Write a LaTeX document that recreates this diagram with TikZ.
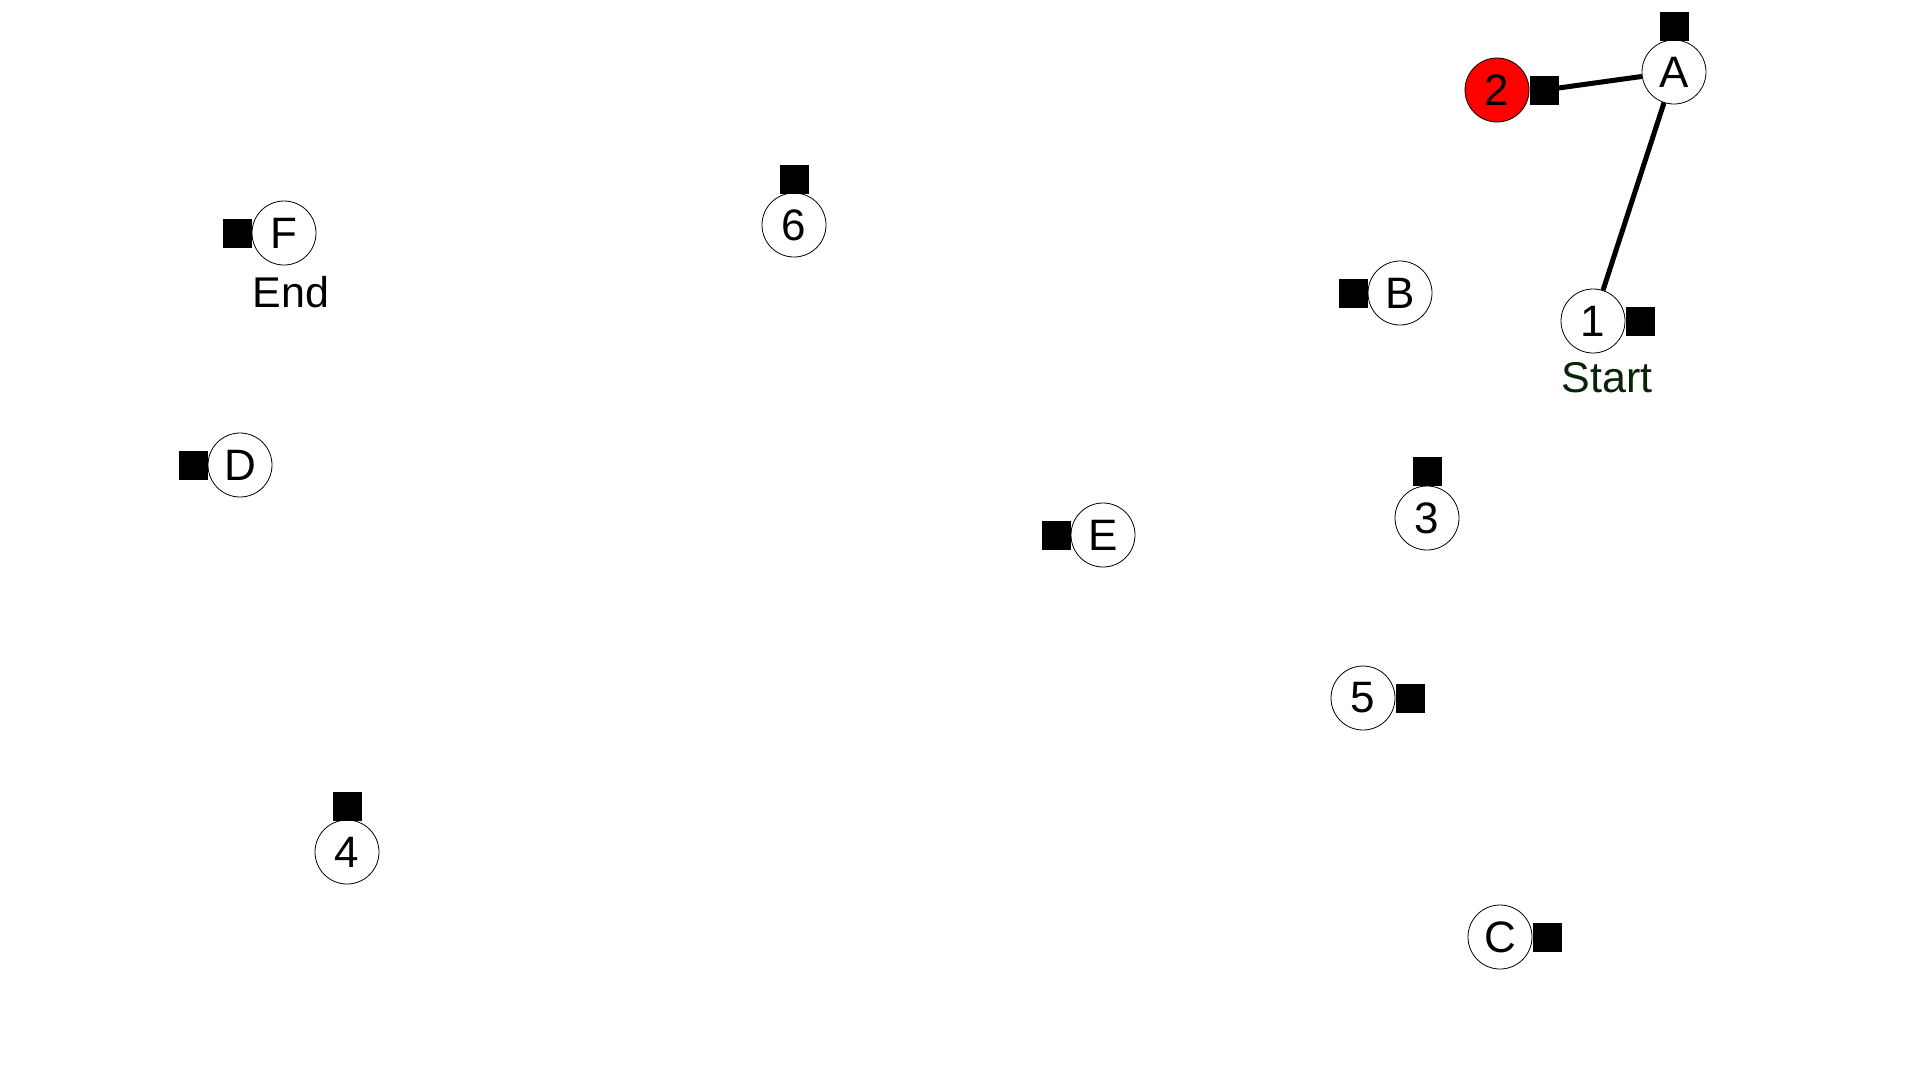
\documentclass[tikz,border=0pt]{standalone}
\usepackage{fontspec}
\setmainfont{Liberation Sans}
\definecolor{startgreen}{RGB}{8,36,8}
\begin{document}
\begin{tikzpicture}[x=1pt,y=-1pt,
  vtx/.style={circle,draw=black,line width=0.8pt,fill=white,minimum size=64pt,inner sep=0pt,font=\fontsize{44}{48}\selectfont},
  sq/.style={rectangle,fill=black,minimum size=29pt,inner sep=0pt},
  lbl/.style={inner sep=0pt,font=\fontsize{43}{46}\selectfont},
  edge/.style={line width=5pt}]
\fill[white] (0,0) rectangle (1920,1080);
\useasboundingbox (0,0) rectangle (1920,1080);
% nodes
\node[vtx] (A) at (1674,72) {A};
\node[vtx,fill={rgb,255:red,255;green,0;blue,0}] (n2) at (1497,90) {2};
\node[vtx] (n1) at (1593,321) {1};
\node[vtx] (B) at (1400,293) {B};
\node[vtx] (F) at (284,233) {F};
\node[vtx] (n6) at (794,225) {6};
\node[vtx] (D) at (240,465) {D};
\node[vtx] (E) at (1103,535) {E};
\node[vtx] (n3) at (1427,518) {3};
\node[vtx] (n5) at (1363,698) {5};
\node[vtx] (n4) at (347,852) {4};
\node[vtx] (C) at (1500,937) {C};
% squares
\node[sq] (sA) at (1674,26) {};
\node[sq] (s2) at (1544,90) {};
\node[sq] (s1) at (1640,321) {};
\node[sq] (sB) at (1353,293) {};
\node[sq] (sF) at (237,233) {};
\node[sq] (s6) at (794,179) {};
\node[sq] (sD) at (193,465) {};
\node[sq] (sE) at (1056,535) {};
\node[sq] (s3) at (1427,471) {};
\node[sq] (s5) at (1410,698) {};
\node[sq] (s4) at (347,806) {};
\node[sq] (sC) at (1547,937) {};
% labels
\node[lbl,text=startgreen] (start) at (1607,378) {Start};
\node[lbl] (end) at (291,292) {End};
% connectors
\draw[edge] (s2) -- (A);
\draw[edge] (A) -- (n1);
\end{tikzpicture}
\end{document}
